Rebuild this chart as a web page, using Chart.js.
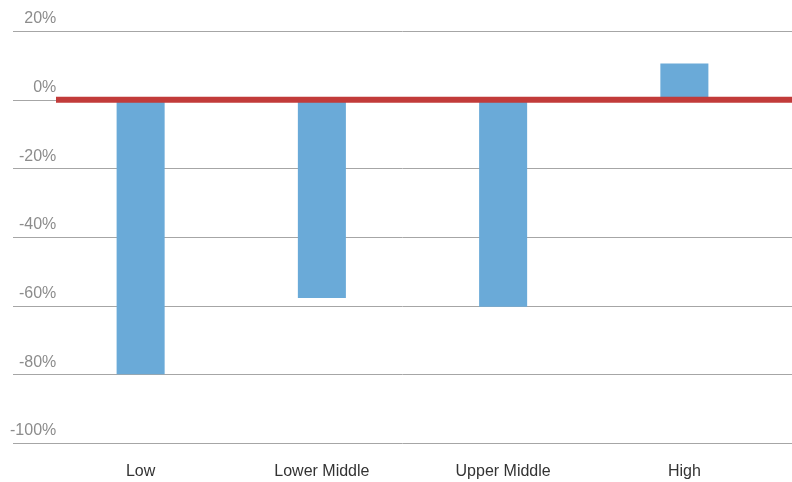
<!DOCTYPE html>
<html>
<head>
<meta charset="utf-8">
<script src="https://cdn.jsdelivr.net/npm/chart.js@4/dist/chart.umd.min.js"></script>
<style>
  html, body { margin: 0; padding: 0; background: #fff; }
  #wrap { width: 792px; height: 482px; }
</style>
</head>
<body>
<div id="wrap"><canvas id="myChart"></canvas></div>
<script>
const categories = ['Low', 'Lower Middle', 'Upper Middle', 'High'];
const changeValues = [-80, -57.8, -60.3, 10.5];
const yTicks = [20, 0, -20, -40, -60, -80, -100];

// horizontal grid lines, running past the plot area like the original
const gridLines = {
    id: 'gridLines',
    beforeDatasetsDraw(chart) {
        const { ctx, scales: { y } } = chart;
        ctx.save();
        ctx.strokeStyle = '#a6a6a6';
        ctx.lineWidth = 1;
        yTicks.forEach(v => {
            const py = Math.round(y.getPixelForValue(v)) + 0.5;
            ctx.beginPath();
            ctx.moveTo(13, py);
            ctx.lineTo(chart.width, py);
            ctx.stroke();
        });
        ctx.restore();
    },
    afterDatasetsDraw(chart) {
        const { ctx, scales: { y } } = chart;
        const py = y.getPixelForValue(0);
        ctx.save();
        ctx.strokeStyle = '#c23b3a';
        ctx.lineWidth = 6;
        ctx.beginPath();
        ctx.moveTo(56, py);
        ctx.lineTo(chart.width, py);
        ctx.stroke();
        ctx.restore();
    }
};

new Chart(document.getElementById('myChart'), {
    type: 'bar',
    data: {
        labels: categories,
        datasets: [{
            data: changeValues,
            backgroundColor: '#6aaad8',
            borderWidth: 0,
            barPercentage: 1,
            categoryPercentage: 0.265
        }]
    },
    options: {
        responsive: true,
        maintainAspectRatio: false,
        animation: false,
        layout: { padding: { top: 31, right: 17, left: 0, bottom: 0 } },
        plugins: {
            legend: { display: false },
            tooltip: { enabled: false }
        },
        scales: {
            x: {
                grid: { display: false, drawTicks: false },
                border: { display: false },
                ticks: {
                    color: '#333',
                    font: { family: 'Liberation Sans', size: 16 },
                    padding: 19
                },
                afterFit: s => { s.height = 39; }
            },
            y: {
                min: -100,
                max: 20,
                grid: { display: false, drawTicks: false },
                border: { display: false },
                ticks: {
                    stepSize: 20,
                    color: '#8c8c8c',
                    font: { family: 'Liberation Sans', size: 16 },
                    mirror: true,
                    crossAlign: 'far',
                    padding: -40,
                    labelOffset: -12,
                    callback: v => v + '%'
                },
                afterFit: s => { s.width = 50; }
            }
        }
    },
    plugins: [gridLines]
});
</script>
</body>
</html>
